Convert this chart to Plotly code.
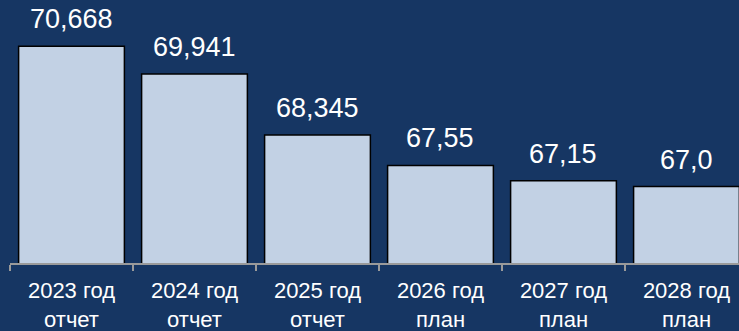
import plotly.graph_objects as go

categories = ["2023 год<br>отчет", "2024 год<br>отчет", "2025 год<br>отчет",
              "2026 год<br>план", "2027 год<br>план", "2028 год<br>план"]
values = [70.668, 69.941, 68.345, 67.55, 67.15, 67.0]
value_labels = ["70,668", "69,941", "68,345", "67,55", "67,15", "67,0"]

BG = "#163663"
FONT = "Liberation Sans, Arial, sans-serif"

fig = go.Figure()
fig.add_trace(go.Bar(
    x=categories, y=values, base=0,
    marker=dict(color="#c2d1e4", line=dict(color="#000000", width=1.5)),
    width=0.86, hoverinfo="skip",
))

for c, v, t in zip(categories, values, value_labels):
    fig.add_annotation(x=c, y=v, text=t, showarrow=False, yanchor="bottom",
                       yshift=10, font=dict(family=FONT, size=27, color="white"))

fig.update_layout(
    width=739, height=331,
    paper_bgcolor=BG, plot_bgcolor=BG,
    margin=dict(l=10, r=0, t=0, b=68),
    showlegend=False,
    font=dict(family=FONT, color="white"),
    xaxis=dict(type="category", range=[-0.5, 5.427], tickson="boundaries",
               ticks="outside", ticklen=6, tickcolor="#9a9a9a", tickwidth=2,
               showline=True, linecolor="#9a9a9a", linewidth=2,
               tickfont=dict(family=FONT, size=22, color="white"),
               ticklabelstandoff=7, showgrid=False),
    yaxis=dict(range=[65, 71.876], visible=False, showgrid=False, zeroline=False),
)

fig.write_html(
    "out.html",
    config={"displayModeBar": False, "staticPlot": True},
    post_script="document.body.style.margin='0';document.body.style.overflow='hidden';",
)
